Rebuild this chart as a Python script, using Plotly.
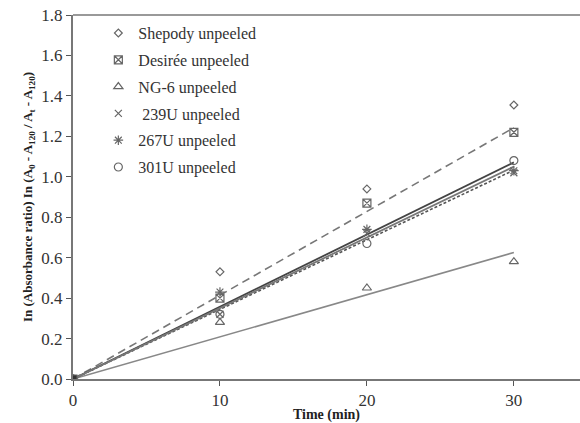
import numpy as np
import plotly.graph_objects as go

time = [0, 10, 20, 30]
series_names = ["Shepody unpeeled", "Desirée unpeeled", "NG-6 unpeeled",
                " 239U unpeeled", "267U unpeeled", "301U unpeeled"]
shepody = [0, 0.53, 0.94, 1.355]
desiree = [0, 0.40, 0.87, 1.22]
ng6 = [0, 0.28, 0.45, 0.58]
u239 = [0, 0.32, 0.72, 1.02]
u267 = [0, 0.43, 0.74, 1.03]
u301 = [0, 0.32, 0.67, 1.08]
values = [shepody, desiree, ng6, u239, u267, u301]
symbols = ["diamond-open", "square-x-open", "triangle-up-open", "x-thin-open",
           "asterisk-open", "circle-open"]
sizes = [6, 8, 8, 7, 8, 8]
fit_x = [0, 30]

fig = go.Figure()
mc = "#666666"

# regression lines through origin
fits = [(1, dict(color="#777777", width=1.6, dash="8px,5px")),
        (2, dict(color="#888888", width=1.6)),
        (3, dict(color="#555555", width=1.6, dash="3px,2px")),
        (4, dict(color="#444444", width=1.8)),
        (5, dict(color="#777777", width=1.8))]
t = np.array(time, dtype=float)
for idx, ln in fits:
    v = np.array(values[idx])
    slope = float((t * v).sum() / (t * t).sum())
    fig.add_trace(go.Scatter(x=fit_x, y=[slope * x for x in fit_x], mode="lines",
                             line=ln, showlegend=False, hoverinfo="skip"))

for i, (name, v) in enumerate(zip(series_names, values)):
    fig.add_trace(go.Scatter(x=time, y=v, mode="markers", name=name,
                             legendgroup=f"g{i}",
                             marker=dict(symbol=symbols[i], size=sizes[i], color=mc,
                                         line=dict(color=mc, width=1.2))))

# dark cluster at origin
fig.add_trace(go.Scatter(x=[0], y=[0], mode="markers", showlegend=False, hoverinfo="skip",
                         marker=dict(symbol="square", size=7, color="#333333")))

font = "Liberation Serif, Times New Roman, serif"
fig.update_layout(
    width=580, height=423,
    margin=dict(l=73, r=0, t=15, b=44),
    plot_bgcolor="white", paper_bgcolor="white",
    font=dict(family=font, size=15, color="#333333"),
    showlegend=True,
    legend=dict(x=0.05, y=0.997, xanchor="left", yanchor="top",
                bgcolor="rgba(0,0,0,0)", font=dict(family=font, size=16, color="#333333"),
                tracegroupgap=3, itemwidth=30),
    xaxis=dict(range=[0, 34.5], tickvals=[0, 10, 20, 30], ticks="outside", ticklen=5,
               tickcolor="#555555", showline=True, linecolor="#777777", linewidth=2,
               showgrid=False, zeroline=False, mirror=False,
               title=dict(text="<b>Time (min)</b>", font=dict(family=font, size=14, color="#222222"),
                          standoff=2),
               tickfont=dict(family=font, size=17, color="#333333")),
    yaxis=dict(range=[0, 1.8], tickvals=[0, 0.2, 0.4, 0.6, 0.8, 1.0, 1.2, 1.4, 1.6, 1.8],
               ticktext=["0.0", "0.2", "0.4", "0.6", "0.8", "1.0", "1.2", "1.4", "1.6", "1.8"],
               ticks="outside", ticklen=5, tickcolor="#555555",
               showline=True, linecolor="#777777", linewidth=2, showgrid=False, zeroline=False,
               title=dict(text="<b>In (Absorbance ratio) In (A<sub>0</sub> - A<sub>120</sub> / A<sub>t</sub> - A<sub>120</sub>)</b>",
                          font=dict(family=font, size=13, color="#222222"), standoff=6),
               tickfont=dict(family=font, size=17, color="#333333")),
)
# top frame line
fig.add_shape(type="line", xref="paper", yref="paper", x0=0, x1=1, y0=1, y1=1,
              line=dict(color="#777777", width=1.5))

fig.write_html("out.html")
